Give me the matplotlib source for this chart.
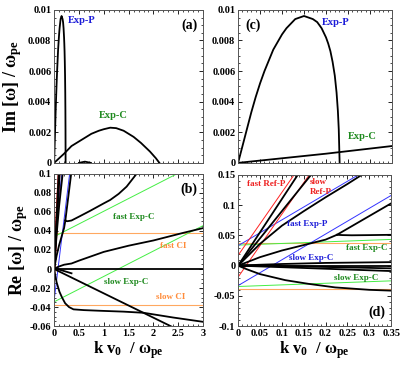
import numpy as np
import matplotlib
matplotlib.use('Agg')
import matplotlib.pyplot as plt
from matplotlib.ticker import FuncFormatter, AutoMinorLocator, MultipleLocator

plt.rcParams['font.family'] = 'Liberation Serif'
plt.rcParams['font.weight'] = 'bold'
plt.rcParams['axes.labelweight'] = 'bold'
plt.rcParams['mathtext.fontset'] = 'custom'
plt.rcParams['mathtext.rm'] = 'Liberation Serif:bold'
plt.rcParams['mathtext.bf'] = 'Liberation Serif:bold'
plt.rcParams['mathtext.it'] = 'Liberation Serif:bold'

# growth rates (Im w)
expP_k = [0, 0.01, 0.02, 0.03, 0.04, 0.05, 0.06, 0.07, 0.08, 0.09, 0.1, 0.11, 0.12, 0.13, 0.14,
          0.15, 0.16, 0.17, 0.18, 0.19, 0.2, 0.205, 0.21, 0.215, 0.22, 0.224, 0.227, 0.229, 0.231]
expP_w = [0, 0.0011, 0.0022, 0.0033, 0.0043, 0.0052, 0.0060, 0.0067, 0.0074, 0.0079, 0.0084, 0.0088,
          0.0091, 0.0094, 0.0095, 0.0096, 0.0095, 0.0094, 0.0092, 0.0088, 0.0082, 0.0078, 0.0073,
          0.0066, 0.0057, 0.0046, 0.0034, 0.0022, 0]
expC_k = [0, 0.1, 0.2, 0.35, 0.5, 0.6, 0.75, 0.9, 1.0, 1.13, 1.25, 1.4, 1.5, 1.6, 1.75, 1.93, 2.05, 2.12]
expC_w = [0, 0.0003, 0.0006, 0.0011, 0.0014, 0.0016, 0.0019, 0.0021, 0.0022, 0.0023, 0.00227,
          0.0021, 0.0019, 0.0017, 0.0013, 0.00074, 0.0003, 0]
bump_k = [0.5, 0.62, 0.74]
bump_w = [0, 0.00008, 0]

# real frequencies (Re w), black branches
r1_k = [0, 0.15]
r1_w = [0, 0.165]
r2_k = [0, 0.2]
r2_w = [0, 0.18]
p1_k = [0, 0.05, 0.1, 0.15, 0.2, 0.25, 0.3]
p1_w = [0, 0.036, 0.066, 0.09, 0.113, 0.135, 0.158]
kink_k = [0, 0.05, 0.1, 0.15, 0.2, 0.226]
kink_w = [0, 0.014, 0.025, 0.034, 0.043, 0.051]
brA_k = [0.226, 0.24, 0.26, 0.3, 0.35, 0.5, 0.72, 1.0, 1.13, 1.3, 1.46, 1.66, 1.75]
brA_w = [0.051, 0.0505, 0.0502, 0.0505, 0.051, 0.055, 0.061, 0.069, 0.0726, 0.079, 0.0866, 0.1, 0.107]
brB_k = [0.226, 0.35, 0.4]
brB_w = [0.051, 0.103, 0.124]
fci_k = [0, 0.05, 0.1, 0.2, 0.35, 0.5, 1.0, 1.5, 2.0, 2.6, 3.0]
fci_w = [0, 0.0015, 0.0027, 0.0045, 0.0058, 0.0088, 0.018, 0.0245, 0.030, 0.038, 0.043]
zero_k = [0, 3.0]
zero_w = [0, 0]
z2_k = [0, 0.35]
z2_w = [0.001, -0.0045]
down_k = [0, 2.4]
down_w = [0, -0.0614]
sharp_k = [0, 0.02, 0.05, 0.108, 0.16, 0.222, 0.3, 0.39, 0.6, 0.93, 1.4, 1.8, 2.4, 3.0]
sharp_w = [0, -0.006, -0.014, -0.024, -0.030, -0.036, -0.040, -0.0424, -0.0432, -0.0439, -0.0448, -0.046, -0.051, -0.0555]
black_re = [(r1_k, r1_w), (r2_k, r2_w), (p1_k, p1_w), (kink_k, kink_w), (brA_k, brA_w),
            (brB_k, brB_w), (fci_k, fci_w), (zero_k, zero_w), (z2_k, z2_w), (down_k, down_w),
            (sharp_k, sharp_w)]

# reference lines: intercept, slope
ci_level = 0.038
expC_line = (0.034, -0.0345, 0.0267)    # fast intercept, slow intercept, slope
expP_line = (0.033, -0.033, 0.426)
refP_line = (0.017, -0.019, 1.04)

BLUE_T = '#1c1cd8'
GREEN_T = '#1f8a1f'
RED_T = '#ee2020'
ORANGE_T = '#ff8c3a'

fig = plt.figure(figsize=(4.07, 3.66), dpi=100)
ax_a = fig.add_axes([0.133, 0.555, 0.366, 0.418])
ax_b = fig.add_axes([0.133, 0.109, 0.366, 0.416])
ax_c = fig.add_axes([0.585, 0.555, 0.378, 0.418])
ax_d = fig.add_axes([0.585, 0.109, 0.376, 0.413])

fmt = FuncFormatter(lambda v, p: '%g' % round(v, 6))


def style(ax, xmax, xmaj, xmin, ymaj, yminor, ylo, yhi, xlabels):
    ax.set_xlim(0, xmax)
    ax.set_ylim(ylo, yhi)
    ax.xaxis.set_major_locator(MultipleLocator(xmaj))
    ax.xaxis.set_minor_locator(MultipleLocator(xmin))
    ax.yaxis.set_major_locator(MultipleLocator(ymaj))
    ax.yaxis.set_minor_locator(AutoMinorLocator(yminor))
    ax.tick_params(which='both', direction='in', top=True, right=True, labelsize=7.5, pad=2)
    ax.tick_params(which='major', length=3, width=0.6)
    ax.tick_params(which='minor', length=1.5, width=0.5)
    ax.yaxis.set_major_formatter(fmt)
    if xlabels:
        ax.xaxis.set_major_formatter(fmt)
    else:
        ax.set_xticklabels([])
    for s in ax.spines.values():
        s.set_linewidth(0.7)
        s.set_color('#555555')


def draw_im(ax):
    ax.plot(expP_k, expP_w, color='black', lw=1.3)
    ax.plot(expC_k, expC_w, color='black', lw=1.3)
    ax.plot(bump_k, bump_w, color='black', lw=1.3)


def draw_re(ax, xmax):
    kk = np.array([0, xmax])
    ax.axhline(ci_level, color='#ffa860', lw=0.8)
    ax.axhline(-ci_level, color='#ffa860', lw=0.8)
    ax.plot(kk, expC_line[0] + expC_line[2] * kk, color='#44ee44', lw=0.7)
    ax.plot(kk, expC_line[1] + expC_line[2] * kk, color='#44ee44', lw=0.7)
    ax.plot(kk, expP_line[0] + expP_line[2] * kk, color='#3333ff', lw=0.7)
    ax.plot(kk, expP_line[1] + expP_line[2] * kk, color='#3333ff', lw=0.7)
    ax.plot(kk, refP_line[0] + refP_line[2] * kk, color='#ff2222', lw=0.7)
    ax.plot(kk, refP_line[1] + refP_line[2] * kk, color='#ff2222', lw=0.7)
    for k, w in black_re:
        ax.plot(k, w, color='black', lw=1.3)


# (a)
draw_im(ax_a)
style(ax_a, 3, 0.5, 0.1, 0.002, 4, 0, 0.01, False)
ax_a.set_ylabel('Im [ω] / ω$_{\\mathbf{pe}}$', fontsize=13, labelpad=3)
ax_a.text(0.28, 0.0093, 'Exp-P', color=BLUE_T, fontsize=7.5, va='center')
ax_a.text(0.9, 0.0031, 'Exp-C', color=GREEN_T, fontsize=7.5, va='center')
ax_a.text(0.96, 0.9, '(a)', transform=ax_a.transAxes, fontsize=10, ha='right', va='center')

# (b)
draw_re(ax_b, 3)
style(ax_b, 3, 0.5, 0.1, 0.02, 4, -0.06, 0.1, True)
ax_b.set_ylabel('Re [ω] / ω$_{\\mathbf{pe}}$', fontsize=13, labelpad=0)
ax_b.set_xlabel('k v$_{\\mathbf{0}}$  / ω$_{\\mathbf{pe}}$', fontsize=12, labelpad=1)
ax_b.text(1.6, 0.055, 'fast Exp-C', color=GREEN_T, fontsize=6.5, ha='center', va='center')
ax_b.text(2.4, 0.024, 'fast CI', color=ORANGE_T, fontsize=6.5, ha='center', va='center')
ax_b.text(1.45, -0.0133, 'slow Exp-C', color=GREEN_T, fontsize=6.5, ha='center', va='center')
ax_b.text(2.35, -0.029, 'slow CI', color=ORANGE_T, fontsize=6.5, ha='center', va='center')
ax_b.text(0.96, 0.9, '(b)', transform=ax_b.transAxes, fontsize=10, ha='right', va='center')

# (c)
draw_im(ax_c)
style(ax_c, 0.35, 0.05, 0.01, 0.002, 4, 0, 0.01, False)
ax_c.set_xticks([0, 0.05, 0.1, 0.15, 0.2, 0.25, 0.3, 0.35])
ax_c.set_xticklabels([])
ax_c.text(0.19, 0.0092, 'Exp-P', color=BLUE_T, fontsize=7.5, va='center')
ax_c.text(0.25, 0.0017, 'Exp-C', color=GREEN_T, fontsize=7.5, va='center')
ax_c.text(0.05, 0.9, '(c)', transform=ax_c.transAxes, fontsize=10, ha='left', va='center')

# (d)
draw_re(ax_d, 0.35)
style(ax_d, 0.35, 0.05, 0.01, 0.05, 5, -0.1, 0.15, True)
ax_d.set_xlabel('k v$_{\\mathbf{0}}$  / ω$_{\\mathbf{pe}}$', fontsize=12, labelpad=1)
ax_d.text(0.065, 0.135, 'fast Ref-P', color=RED_T, fontsize=6.5, ha='center', va='center')
ax_d.text(0.165, 0.13, 'slow\nRef-P', color=RED_T, fontsize=6.5, ha='left', va='center', linespacing=1.3)
ax_d.text(0.158, 0.069, 'fast Exp-P', color=BLUE_T, fontsize=6.5, ha='center', va='center')
ax_d.text(0.295, 0.030, 'fast Exp-C', color=GREEN_T, fontsize=6.5, ha='center', va='center')
ax_d.text(0.167, 0.012, 'slow Exp-C', color=BLUE_T, fontsize=6.5, ha='center', va='center')
ax_d.text(0.27, -0.021, 'slow Exp-C', color=GREEN_T, fontsize=6.5, ha='center', va='center')
ax_d.text(0.96, 0.09, '(d)', transform=ax_d.transAxes, fontsize=10, ha='right', va='center')

fig.savefig('out.png', dpi=100)
